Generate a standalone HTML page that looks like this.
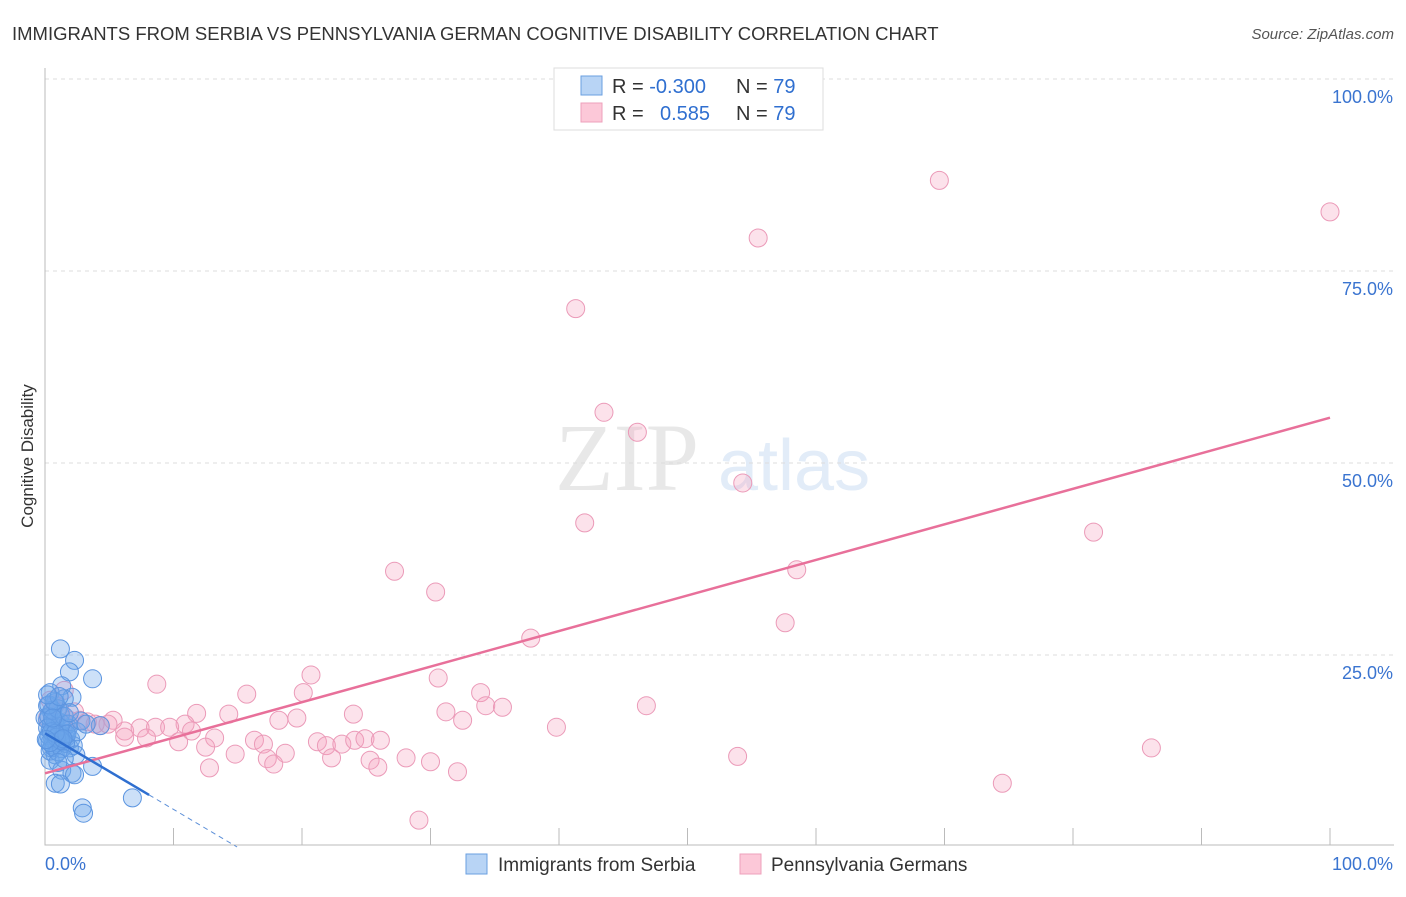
<!DOCTYPE html>
<html><head><meta charset="utf-8"><style>
body{margin:0;background:#fff;font-family:"Liberation Sans",sans-serif}
</style></head><body>
<svg width="1406" height="892" xmlns="http://www.w3.org/2000/svg">
<text x="12" y="40" font-size="18.5" fill="#333">IMMIGRANTS FROM SERBIA VS PENNSYLVANIA GERMAN COGNITIVE DISABILITY CORRELATION CHART</text>
<text x="1394" y="39" font-size="15" fill="#555" font-style="italic" text-anchor="end">Source: ZipAtlas.com</text>
<text x="555" y="490" font-size="96" font-family="Liberation Serif,serif" fill="#e8e8e8">ZIP</text>
<text x="718" y="490" font-size="72" fill="#e2ecf8">atlas</text>
<g id="grid"></g>
<g id="axes"></g>
<g id="pts"></g>
<g id="lines"></g>
<text transform="translate(33,456) rotate(-90)" font-size="17" fill="#333" text-anchor="middle">Cognitive Disability</text>
<g>
<rect x="554" y="68" width="269" height="62" fill="#fff" stroke="#ddd"/>
<rect x="581" y="76" width="21" height="19" fill="#b8d4f5" stroke="#6a9fe0"/>
<rect x="581" y="103" width="21" height="19" fill="#fcc8d8" stroke="#eea0bb"/>
<text x="612" y="93" font-size="20" fill="#333">R = <tspan fill="#2f6fd0">-0.300</tspan></text>
<text x="736" y="93" font-size="20" fill="#333">N = <tspan fill="#2f6fd0">79</tspan></text>
<text x="612" y="120" font-size="20" fill="#333">R = </text>
<text x="660" y="120" font-size="20" fill="#2f6fd0">0.585</text>
<text x="736" y="120" font-size="20" fill="#333">N = <tspan fill="#2f6fd0">79</tspan></text>
</g>
<g>
<rect x="466" y="854" width="21" height="20" fill="#b8d4f5" stroke="#6a9fe0"/>
<text x="498" y="871" font-size="19" fill="#333">Immigrants from Serbia</text>
<rect x="740" y="854" width="21" height="20" fill="#fcc8d8" stroke="#eea0bb"/>
<text x="771" y="871" font-size="19" fill="#333">Pennsylvania Germans</text>
</g>
</svg>
<script>
const yTicks=[25,50,75,100];
const yTickLabels=["25.0%","50.0%","75.0%","100.0%"];
const xTicks=[10,20,30,40,50,60,70,80,90,100];
const blueX=[1.2,2.3,1.9,3.7,1.3,0.4,2.1,1.5,0.8,0.2,0.5,1.2,0.2,0.8,0.4,1.0,0.2,1.3,0.6,1.9,1.6,0.8,0.4,1.3,2.1,2.3,3.7,0.8,1.2,2.9,3.0,6.8,4.3,1.6,1.8,0.9,0.5,0,0.3,0.6,0.9,1.1,1.4,0.5,0.8,1.2,0.3,0.6,1.0,1.5,1.8,2.0,2.2,0.4,0.7,1.0,1.3,1.6,0.2,0.5,0.9,1.2,1.7,0.3,0.7,1.1,2.5,2.8,3.2,0.4,0.8,1.4,0.6,1.9,0.1,2.4,1.5,1.0,0.2];
const blueY=[25.8,24.3,22.8,21.9,21.0,20.1,19.5,19.3,18.8,18.4,17.6,17.2,16.5,15.9,15.2,14.6,13.9,13.7,13.3,12.9,14.2,12.0,11.3,10.0,9.6,9.4,10.5,8.3,8.2,5.1,4.4,6.4,15.8,14.8,15.5,15.5,12.9,16.8,14.5,14.0,13.6,14.9,15.3,16.0,16.6,16.2,17.0,17.8,18.0,17.0,16.0,14.0,13.2,12.5,13.0,12.4,12.8,13.5,15.5,15.0,14.3,13.9,14.7,18.5,19.0,19.6,15.0,16.4,16.0,13.6,14.8,14.1,16.8,17.5,14.0,12.0,11.5,11.0,19.8];
const pinkX=[69.6,100,55.5,41.3,43.5,46.1,54.3,42.0,81.6,27.2,58.5,30.4,37.8,57.6,20.7,8.7,30.6,15.7,20.1,33.9,34.3,35.6,46.8,31.2,32.5,11.8,14.3,18.2,19.6,24.0,39.8,10.9,5.3,4.3,3.3,6.2,7.4,8.6,9.7,11.4,13.2,10.4,6.2,7.9,12.5,14.8,16.3,17.0,18.7,17.3,17.8,21.2,21.9,22.3,23.1,24.1,24.9,26.1,25.3,25.9,28.1,30.0,32.1,12.8,29.1,53.9,86.1,74.5,1.9,1.2,0.8,2.7,3.9,1.5,0.4,2.3,4.9,0.2,1.6];
const pinkY=[86.8,82.7,79.3,70.1,56.6,54.0,47.4,42.2,41.0,35.9,36.1,33.2,27.2,29.2,22.4,21.2,22.0,19.9,20.1,20.1,18.4,18.2,18.4,17.6,16.5,17.4,17.3,16.5,16.8,17.3,15.6,16.0,16.5,15.8,16.3,15.1,15.5,15.6,15.6,15.1,14.2,13.7,14.3,14.2,13.0,12.1,13.9,13.4,12.2,11.5,10.8,13.7,13.2,11.6,13.4,13.9,14.1,13.9,11.3,10.4,11.6,11.1,9.8,10.3,3.5,11.8,12.9,8.3,16.5,17.6,18.5,16.5,16.0,20.4,19.1,17.6,16.0,16.8,16.0];
const pinkFit=[9.6,55.9];
const blueFit=[14.8,-0.99];
const NS="http://www.w3.org/2000/svg";
const X=v=>45+v*12.85, Y=v=>847-v*7.68;
function mk(t,a,p){const e=document.createElementNS(NS,t);for(const k in a)e.setAttribute(k,a[k]);p.appendChild(e);return e;}
const grid=document.getElementById('grid'),axes=document.getElementById('axes'),pts=document.getElementById('pts'),lines=document.getElementById('lines');
yTicks.forEach((t,i)=>{
 const g=mk('line',{x1:45,x2:1394,y1:Y(t),y2:Y(t),stroke:'#ddd','stroke-dasharray':'4,4'},grid);
 
 
 const l=mk('text',{x:1393,y:Y(t)+24,'font-size':18,fill:'#3a74d0','text-anchor':'end'},grid);
 l.textContent=yTickLabels[i];
 
 
});
const ax=mk('path',{d:'M45 68 V845 H1394',fill:'none',stroke:'#bbb'},axes);


xTicks.forEach(t=>{
 const k=mk('line',{x1:X(t),x2:X(t),y1:828,y2:845,stroke:'#bbb'},axes);
 
 
});
const x0=mk('text',{x:45,y:870,'font-size':18,fill:'#3a74d0'},axes);x0.textContent='0.0%';


const x1=mk('text',{x:1393,y:870,'font-size':18,fill:'#3a74d0','text-anchor':'end'},axes);x1.textContent='100.0%';


pinkX.forEach((v,i)=>{
 const c=mk('circle',{cx:X(v),cy:Y(pinkY[i]),r:9,fill:'rgba(244,160,190,0.3)',stroke:'#eb9ab8','stroke-width':1},pts);
 
 
});
blueX.forEach((v,i)=>{
 const c=mk('circle',{cx:X(v),cy:Y(blueY[i]),r:9,fill:'rgba(110,165,235,0.35)',stroke:'#5c95e0','stroke-width':1},pts);
 
 
});
const pl=mk('line',{x1:X(0),y1:Y(pinkFit[0]),x2:X(100),y2:Y(pinkFit[1]),stroke:'#e8709a','stroke-width':2.5},lines);


const bx=Math.max(...blueX)+1.3, bz=-blueFit[0]/blueFit[1];
const bl=mk('line',{x1:X(0),y1:Y(blueFit[0]),x2:X(bx),y2:Y(blueFit[0]+blueFit[1]*bx),stroke:'#2f6fd0','stroke-width':2.5},lines);


const bd=mk('line',{x1:X(bx),y1:Y(blueFit[0]+blueFit[1]*bx),x2:X(bz),y2:Y(0),stroke:'#5c8fd8','stroke-width':1,'stroke-dasharray':'5,4'},lines);


</script>
</body></html>
